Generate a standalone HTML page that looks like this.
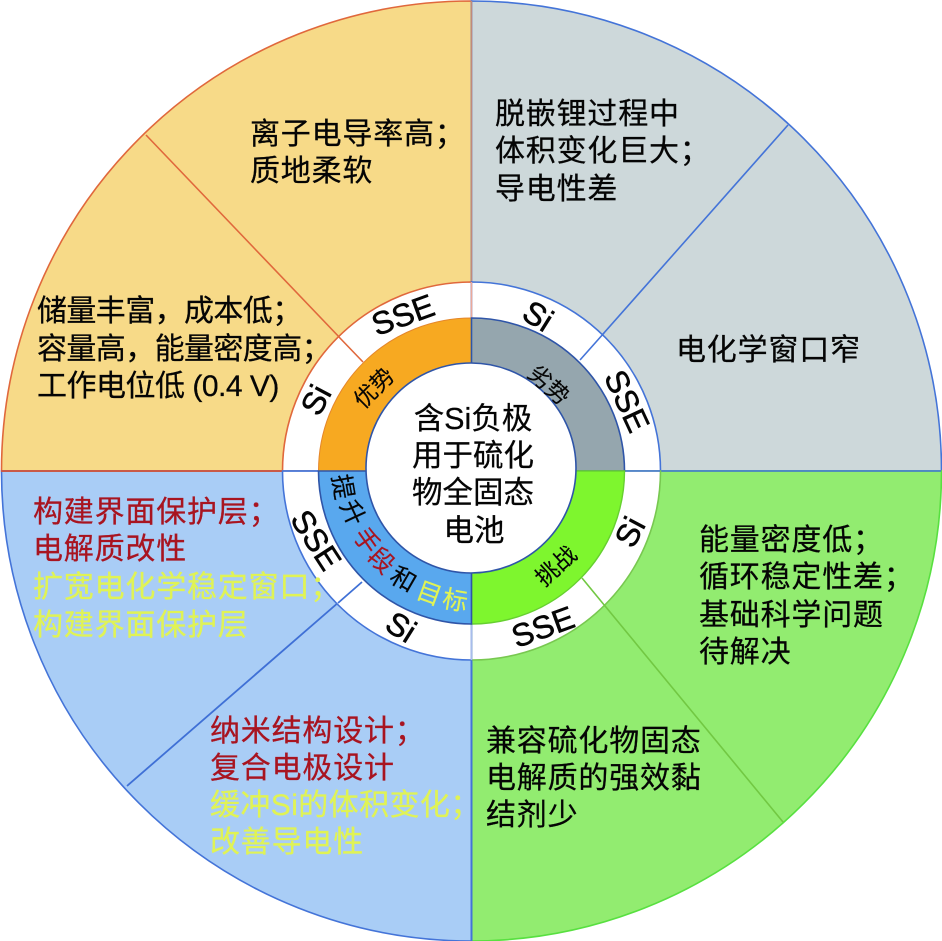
<!DOCTYPE html>
<html><head><meta charset="utf-8"><style>
html,body{margin:0;padding:0;background:#fff;width:942px;height:941px;overflow:hidden}
svg{display:block}
text{font-family:"Liberation Sans","Noto Sans CJK SC",sans-serif;fill:#050505}
.t{font-size:30px;letter-spacing:.8px;stroke:#050505;stroke-width:.25px}
.c{font-size:30.5px;text-anchor:middle;stroke:#050505;stroke-width:.25px}
.l{font-size:32px;text-anchor:middle;dominant-baseline:central;stroke:#050505;stroke-width:.55px}
.s{font-size:23px;text-anchor:middle;dominant-baseline:central;stroke:#050505;stroke-width:.15px}
.a{font-size:25px}
.t.r,.s.r{fill:#a81420;stroke:#a81420}
.t.y,.s.y{fill:#e0f355;stroke:#e0f355}
</style></head><body>
<svg width="942" height="941" viewBox="0 0 942 941" xmlns="http://www.w3.org/2000/svg">
<rect width="942" height="941" fill="#fff"/>
<!-- outer quadrants -->
<path d="M471.5 471H1.5A470 470 0 0 1 471.5 1Z" fill="#f7da88" stroke="#e0683c" stroke-width="1.6"/>
<path d="M471.5 471V1A470 470 0 0 1 941.5 471Z" fill="#cdd8da" stroke="#4474d8" stroke-width="1.6"/>
<path d="M471.5 471H941.5A470 470 0 0 1 471.5 941Z" fill="#92ec70" stroke="#58e040" stroke-width="1.6"/>
<path d="M471.5 471V941A470 470 0 0 1 1.5 471Z" fill="#a9cdf6" stroke="#4474d8" stroke-width="1.6"/>
<line x1="1" y1="471" x2="471" y2="471" stroke="#c95a48" stroke-width="2"/>
<line x1="471.5" y1="471" x2="471.5" y2="941" stroke="#4474d8" stroke-width="2"/>
<line x1="471.5" y1="1" x2="471.5" y2="281" stroke="#c08a7a" stroke-width="1.5"/>
<line x1="471.5" y1="471" x2="941" y2="471" stroke="#4474d8" stroke-width="1.5"/>
<!-- spokes -->
<line x1="146" y1="135" x2="363" y2="362" stroke="#e0683c" stroke-width="1.6"/>
<line x1="788" y1="125" x2="580" y2="360" stroke="#4474d8" stroke-width="1.6"/>
<line x1="127" y1="786" x2="362" y2="582" stroke="#3f70d6" stroke-width="1.8"/>
<line x1="783" y1="822" x2="582" y2="578" stroke="#72c843" stroke-width="1.6"/>
<!-- white ring -->
<path d="M471.5 471H282.5A189 189 0 0 1 471.5 282Z" fill="#fff" stroke="#e0683c" stroke-width="1.6"/>
<path d="M471.5 471V282A189 189 0 0 1 660.5 471Z" fill="#fff" stroke="#4474d8" stroke-width="1.6"/>
<path d="M471.5 471H660.5A189 189 0 0 1 471.5 660Z" fill="#fff" stroke="#78c850" stroke-width="1.6"/>
<path d="M471.5 471V660A189 189 0 0 1 282.5 471Z" fill="#fff" stroke="#4474d8" stroke-width="1.6"/>
<line x1="283" y1="471" x2="471" y2="471" stroke="#4474d8" stroke-width="1.5"/>
<line x1="471.5" y1="282" x2="471.5" y2="318" stroke="#eba99a" stroke-width="1.5"/>
<line x1="471.5" y1="624" x2="471.5" y2="660" stroke="#a8bcec" stroke-width="1.5"/>
<line x1="660" y1="471" x2="472" y2="471" stroke="#4474d8" stroke-width="1.5"/>
<line x1="338" y1="336" x2="363" y2="362" stroke="#e0683c" stroke-width="1.6"/>
<line x1="604" y1="333" x2="580" y2="360" stroke="#4474d8" stroke-width="1.6"/>
<line x1="338" y1="603" x2="362" y2="582" stroke="#3f70d6" stroke-width="1.8"/>
<line x1="605" y1="606" x2="582" y2="578" stroke="#72c843" stroke-width="1.6"/>
<!-- colored ring -->
<path d="M471.5 471H318.5A153 153 0 0 1 471.5 318Z" fill="#f7a921" stroke="#e5862a" stroke-width="1"/>
<path d="M471.5 471V318A153 153 0 0 1 624.5 471Z" fill="#95a6ae" stroke="#2f55a8" stroke-width="1.6"/>
<path d="M471.5 471H624.5A153 153 0 0 1 471.5 624Z" fill="#7ef62e" stroke="#66d030" stroke-width="1.4"/>
<path d="M471.5 471V624A153 153 0 0 1 318.5 471Z" fill="#59a8ee" stroke="#2f55a8" stroke-width="1.6"/>
<circle cx="471" cy="468" r="105" fill="#fff" stroke="#2f55a8" stroke-width="1.6"/>
<!-- center -->
<text class="c" x="473" y="429">含Si负极</text>
<text class="c" x="473" y="466">用于硫化</text>
<text class="c" x="473" y="503">物全固态</text>
<text class="c" x="474" y="541">电池</text>
<!-- ring labels -->
<text class="l" transform="translate(403 315) rotate(-20)">SSE</text>
<text class="l" transform="translate(538 316) rotate(32)">Si</text>
<text class="l" transform="translate(627 401) rotate(65)">SSE</text>
<text class="l" transform="translate(630 532) rotate(-62)">Si</text>
<text class="l" transform="translate(543 627) rotate(-20)">SSE</text>
<text class="l" transform="translate(401 627) rotate(32)">Si</text>
<text class="l" transform="translate(316 540) rotate(57)">SSE</text>
<text class="l" transform="translate(316 400) rotate(-62)">Si</text>
<!-- inner ring labels -->
<text class="s" transform="translate(374 388) rotate(-45)">优势</text>
<text class="s" transform="translate(549 385) rotate(42)">劣势</text>
<text class="s" transform="translate(556 566) rotate(-42)">挑战</text>
<text class="s a" transform="translate(342 487) rotate(80)">提</text>
<text class="s a" transform="translate(352 513) rotate(65)">升</text>
<text class="s a r" transform="translate(366 541) rotate(55)">手</text>
<text class="s a r" transform="translate(381 561) rotate(45)">段</text>
<text class="s a" transform="translate(403 580) rotate(30)">和</text>
<text class="s a y" transform="translate(429 594) rotate(20)">目</text>
<text class="s a y" transform="translate(455 601) rotate(10)">标</text>
<!-- quadrant text -->
<text class="t" x="250" y="144">离子电导率高；</text>
<text class="t" x="250" y="181">质地柔软</text>
<text class="t" x="37" y="321" style="letter-spacing:-.6px">储量丰富，成本低；</text>
<text class="t" x="37" y="359" style="letter-spacing:-.6px">容量高，能量密度高；</text>
<text class="t" x="37" y="396" style="letter-spacing:-.5px">工作电位低 (0.4 V)</text>
<text class="t" x="495" y="124">脱嵌锂过程中</text>
<text class="t" x="495" y="161">体积变化巨大；</text>
<text class="t" x="495" y="199">导电性差</text>
<text class="t" x="676" y="360">电化学窗口窄</text>
<text class="t" x="699" y="550">能量密度低；</text>
<text class="t" x="699" y="587">循环稳定性差；</text>
<text class="t" x="699" y="625">基础科学问题</text>
<text class="t" x="699" y="662">待解决</text>
<text class="t" x="486" y="751">兼容硫化物固态</text>
<text class="t" x="486" y="788">电解质的强效黏</text>
<text class="t" x="486" y="825">结剂少</text>
<text class="t r" x="33" y="522">构建界面保护层；</text>
<text class="t r" x="33" y="559">电解质改性</text>
<text class="t y" x="33" y="597">扩宽电化学稳定窗口；</text>
<text class="t y" x="33" y="635">构建界面保护层</text>
<text class="t r" x="210" y="741">纳米结构设计；</text>
<text class="t r" x="210" y="778">复合电极设计</text>
<text class="t y" x="210" y="815" style="letter-spacing:.4px">缓冲Si的体积变化；</text>
<text class="t y" x="210" y="852">改善导电性</text>
</svg>
</body></html>
